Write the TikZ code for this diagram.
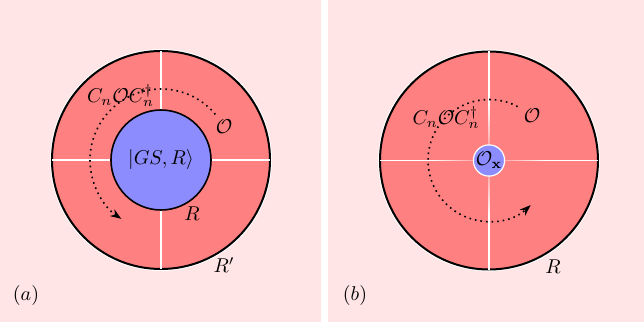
\documentclass[tikz,border=0pt]{standalone}
\usepackage{amsmath}
\usepackage{xcolor}
\usepackage{tikz}
\usetikzlibrary{arrows.meta,calc}
\definecolor{panelPink}{HTML}{FFE5E5}
\definecolor{ringRed}{HTML}{FF8080}
\definecolor{coreBlue}{HTML}{8C8CFF}

\begin{document}
\begin{tikzpicture}[
    x=0.5pt, y=0.5pt,
    panel/.style={fill=panelPink},
    disk/.style={circle, inner sep=0pt, fill=ringRed, draw=black, line width=1pt, minimum size=109pt,
        preaction={draw=white, line width=2pt}},
    core/.style={circle, inner sep=0pt, fill=coreBlue, draw=black, line width=0.8pt, minimum size=50pt},
    dot/.style={circle, inner sep=0pt, fill=coreBlue, draw=white, line width=0.6pt, minimum size=15.5pt},
    cut/.style={white, line width=0.8pt},
    orbit/.style={dotted, thick, -{Stealth[length=5.5pt, width=4pt]}},
    lbl/.style={inner sep=1pt}
]
\useasboundingbox (0,0) rectangle (644,327);
\fill[white] (0,0) rectangle (644,327);

% Panel backgrounds.
\fill[panel] (0,5) rectangle (321,327);
\fill[panel] (328,5) rectangle (644,327);

% (a) ring around the ground state.
\node[disk] (ringA) at (161,167) {};
\foreach \a in {0,90,180,270}{
    \draw[cut] ($(ringA.center)+(\a:54.3pt)$) -- (ringA.center);
}
\node[core] (coreA) at (ringA.center) {$|GS,R\rangle$};
\draw[orbit] ($(ringA.center)+(40:35.5pt)$) arc[start angle=40, end angle=236, radius=35.5pt];

\node[lbl] (rotA) at (120.5,231) {$C_n\mathcal{O}C_n^\dagger$};
\node[lbl] (opA) at (224,200) {$\mathcal{O}$};
\node[lbl] (rA) at (192,113) {$R$};
\node[lbl] (rpA) at (224,62) {$R'$};
\node[lbl] (tagA) at (26,31) {$(a)$};

% (b) disk around a local operator, cuts fade out towards the centre.
\node[disk] (ringB) at (489,166.5) {};
\foreach \a in {0,90,180,270}{
    \draw[cut] ($(ringB.center)+(\a:54.6pt)$) -- ($(ringB.center)+(\a:27pt)$);
    \foreach \i in {0,...,9}{
        \pgfmathsetmacro{\mix}{35+6.5*\i}
        \draw[line width=0.8pt, color=white!\mix!ringRed]
            ($(ringB.center)+(\a:7.5pt+1.95pt*\i)$) -- ($(ringB.center)+(\a:7.5pt+1.95pt*\i+2pt)$);
    }
}
\node[dot] (coreB) at (ringB.center) {$\mathcal{O}_{\mathbf{x}}$};
\draw[orbit] ($(ringB.center)+(62:30.5pt)$) arc[start angle=62, end angle=313, radius=30.5pt];

\node[lbl] (rotB) at (446,209) {$C_n\mathcal{O}C_n^\dagger$};
\node[lbl] (opB) at (532,211) {$\mathcal{O}$};
\node[lbl] (rB) at (553,60) {$R$};
\node[lbl] (tagB) at (355,31) {$(b)$};
\end{tikzpicture}
\end{document}
